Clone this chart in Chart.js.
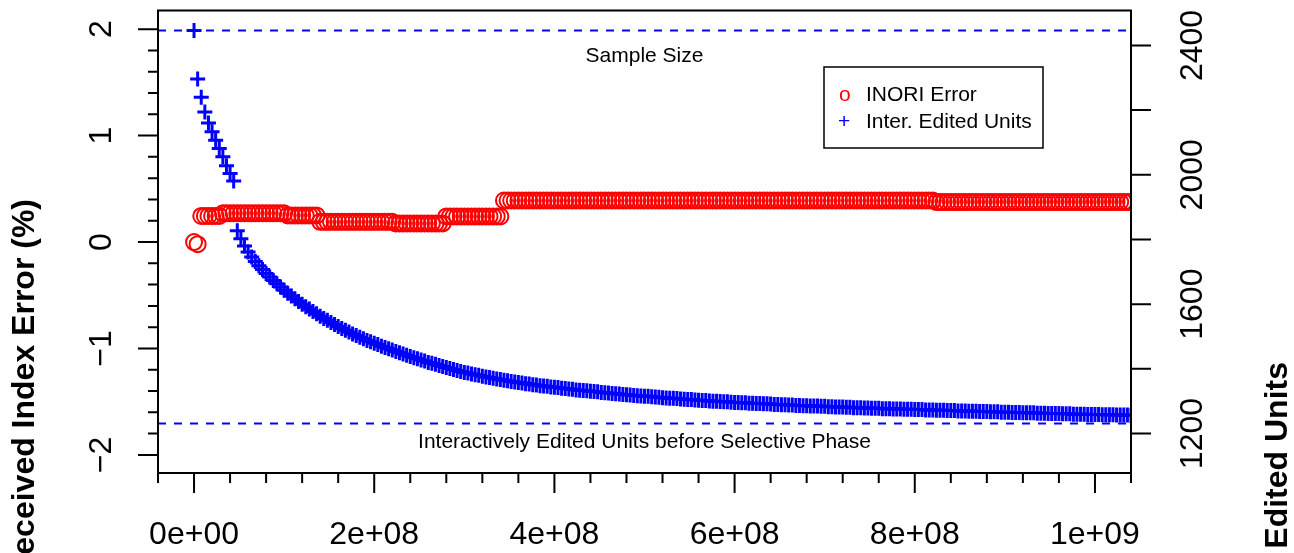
<!DOCTYPE html>
<html>
<head>
<meta charset="utf-8">
<script src="https://cdn.jsdelivr.net/npm/chart.js@4.4.0/dist/chart.umd.min.js"></script>
<style>
  html, body { margin: 0; padding: 0; background: #fff; }
  canvas { display: block; }
</style>
</head>
<body>
<canvas id="chart" width="1294" height="553"></canvas>
<script>
// x positions, in millions
const xMillions = [
  0,4,8,12,16,20,24,28,32,36,40,44,48,52,56,60,64,68,72,76,80,84,88,92,96,
  100,104,108,112,116,120,124,128,132,136,140,144,148,152,156,160,164,168,172,176,180,184,188,192,196,
  200,204,208,212,216,220,224,228,232,236,240,244,248,252,256,260,264,268,272,276,280,284,288,292,296,
  300,304,308,312,316,320,324,328,332,336,340,344,348,352,356,360,364,368,372,376,380,384,388,392,396,
  400,404,408,412,416,420,424,428,432,436,440,444,448,452,456,460,464,468,472,476,480,484,488,492,496,
  500,504,508,512,516,520,524,528,532,536,540,544,548,552,556,560,564,568,572,576,580,584,588,592,596,
  600,604,608,612,616,620,624,628,632,636,640,644,648,652,656,660,664,668,672,676,680,684,688,692,696,
  700,704,708,712,716,720,724,728,732,736,740,744,748,752,756,760,764,768,772,776,780,784,788,792,796,
  800,804,808,812,816,820,824,828,832,836,840,844,848,852,856,860,864,868,872,876,880,884,888,892,896,
  900,904,908,912,916,920,924,928,932,936,940,944,948,952,956,960,964,968,972,976,980,984,988,992,996,
  1000,1004,1008,1012,1016,1020,1024,1028,1032,1036,1040
];

// INORI error (%), left axis
const inoriError = [
  0.00,-0.02,0.245,0.245,0.245,0.245,0.245,0.245,0.27,0.27,0.27,0.27,0.27,0.27,0.27,0.27,0.27,0.27,0.27,0.27,0.27,0.27,0.27,0.27,0.27,
  0.27,0.25,0.25,0.25,0.25,0.25,0.25,0.25,0.25,0.25,0.19,0.19,0.19,0.19,0.19,0.19,0.19,0.19,0.19,0.19,0.19,0.19,0.19,0.19,0.19,
  0.19,0.19,0.19,0.19,0.19,0.19,0.175,0.175,0.175,0.175,0.175,0.175,0.175,0.175,0.175,0.175,0.175,0.175,0.175,0.175,0.24,0.24,0.24,0.24,0.24,
  0.24,0.24,0.24,0.24,0.24,0.24,0.24,0.24,0.24,0.24,0.24,0.39,0.39,0.39,0.39,0.39,0.39,0.39,0.39,0.39,0.39,0.39,0.39,0.39,0.39,
  0.39,0.39,0.39,0.39,0.39,0.39,0.39,0.39,0.39,0.39,0.39,0.39,0.39,0.39,0.39,0.39,0.39,0.39,0.39,0.39,0.39,0.39,0.39,0.39,0.39,
  0.39,0.39,0.39,0.39,0.39,0.39,0.39,0.39,0.39,0.39,0.39,0.39,0.39,0.39,0.39,0.39,0.39,0.39,0.39,0.39,0.39,0.39,0.39,0.39,0.39,
  0.39,0.39,0.39,0.39,0.39,0.39,0.39,0.39,0.39,0.39,0.39,0.39,0.39,0.39,0.39,0.39,0.39,0.39,0.39,0.39,0.39,0.39,0.39,0.39,0.39,
  0.39,0.39,0.39,0.39,0.39,0.39,0.39,0.39,0.39,0.39,0.39,0.39,0.39,0.39,0.39,0.39,0.39,0.39,0.39,0.39,0.39,0.39,0.39,0.39,0.39,
  0.39,0.39,0.39,0.39,0.39,0.39,0.375,0.375,0.375,0.375,0.375,0.375,0.375,0.375,0.375,0.375,0.375,0.375,0.375,0.375,0.375,0.375,0.375,0.375,0.375,
  0.375,0.375,0.375,0.375,0.375,0.375,0.375,0.375,0.375,0.375,0.375,0.375,0.375,0.375,0.375,0.375,0.375,0.375,0.375,0.375,0.375,0.375,0.375,0.375,0.375,
  0.375,0.375,0.375,0.375,0.375,0.375,0.375,0.375,0.375,0.375,0.375
];

// interactively edited units, right axis
const editedUnits = [
  2446,2296,2240,2194,2160,2133,2107,2081,2056,2028,2004,1981,1827,1802,1780,1761,1746,1732,1719,1707,1695,1684,1673,1663,1653,
  1643,1634,1625,1617,1608,1600,1592,1585,1577,1570,1563,1556,1550,1543,1537,1531,1525,1519,1514,1508,1503,1498,1493,1488,1484,
  1479,1475,1470,1466,1462,1458,1454,1450,1446,1442,1438,1434,1431,1427,1424,1420,1417,1414,1410,1407,1404,1401,1398,1395,1392,
  1389,1387,1384,1382,1380,1377,1375,1373,1371,1369,1367,1365,1363,1361,1359,1358,1356,1354,1353,1351,1350,1348,1347,1346,1344,
  1343,1342,1340,1339,1338,1337,1335,1334,1333,1332,1331,1330,1329,1327,1326,1325,1324,1323,1322,1321,1320,1319,1318,1317,1316,
  1315,1315,1314,1313,1312,1311,1310,1309,1309,1308,1307,1306,1305,1305,1304,1303,1302,1302,1301,1300,1300,1299,1298,1298,1297,
  1296,1296,1295,1295,1294,1294,1293,1293,1292,1292,1291,1290,1290,1289,1289,1288,1288,1287,1287,1286,1286,1285,1285,1285,1284,
  1284,1283,1283,1282,1282,1282,1281,1281,1280,1280,1280,1279,1279,1278,1278,1278,1277,1277,1277,1276,1276,1276,1275,1275,1275,
  1274,1274,1274,1273,1273,1273,1272,1272,1272,1271,1271,1271,1270,1270,1270,1269,1269,1269,1268,1268,1268,1267,1267,1267,1266,
  1266,1266,1265,1265,1265,1264,1264,1264,1264,1263,1263,1263,1262,1262,1262,1262,1261,1261,1261,1260,1260,1260,1260,1259,1259,
  1259,1259,1258,1258,1258,1258,1257,1257,1257,1257,1256
];

const sampleSize = 2446;
const unitsBeforeSelective = 1231;

const xTicks = [0, 2e8, 4e8, 6e8, 8e8, 1e9];
const xTickLabels = ['0e+00', '2e+08', '4e+08', '6e+08', '8e+08', '1e+09'];
const yTicks = [-2, -1, 0, 1, 2];
const yTickLabels = ['\u22122', '\u22121', '0', '1', '2'];
const y2Ticks = [1200, 1600, 2000, 2400];
const y2TickLabels = ['1200', '1600', '2000', '2400'];

const inoriPoints = xMillions.map((m, i) => ({ x: m * 1e6, y: inoriError[i] }));
const unitPoints = xMillions.map((m, i) => ({ x: m * 1e6, y: editedUnits[i] }));

const FONT = '"Liberation Sans", Arial, Helvetica, sans-serif';

function vText(ctx, txt, x, y, align) {
  ctx.save();
  ctx.translate(x, y);
  ctx.rotate(-Math.PI / 2);
  ctx.textAlign = align;
  ctx.textBaseline = 'middle';
  ctx.fillText(txt, 0, 0);
  ctx.restore();
}

const rAxes = {
  id: 'rAxes',
  afterDraw(chart) {
    const { ctx, chartArea: a, scales } = chart;
    const sx = scales.x, sy = scales.y, sy2 = scales.y2;
    ctx.save();
    ctx.strokeStyle = '#000';
    ctx.fillStyle = '#000';
    ctx.lineWidth = 2;
    ctx.strokeRect(a.left, a.top, a.right - a.left, a.bottom - a.top);

    ctx.beginPath();
    // bottom axis, minor ticks every 4e7
    for (let v = -4e7; v <= 1.0401e9; v += 4e7) {
      const px = sx.getPixelForValue(v);
      ctx.moveTo(px, a.bottom); ctx.lineTo(px, a.bottom + 10);
    }
    xTicks.forEach(v => {
      const px = sx.getPixelForValue(v);
      ctx.moveTo(px, a.bottom); ctx.lineTo(px, a.bottom + 20);
    });
    // left axis
    for (let k = -10; k <= 10; k++) {
      const py = sy.getPixelForValue(k / 5);
      ctx.moveTo(a.left, py); ctx.lineTo(a.left - 10, py);
    }
    yTicks.forEach(v => {
      const py = sy.getPixelForValue(v);
      ctx.moveTo(a.left, py); ctx.lineTo(a.left - 20, py);
    });
    // right axis
    for (let v = 1200; v <= 2400; v += 200) {
      const py = sy2.getPixelForValue(v);
      ctx.moveTo(a.right, py); ctx.lineTo(a.right + 20, py);
    }
    ctx.stroke();

    ctx.font = '32px ' + FONT;
    ctx.textAlign = 'center';
    ctx.textBaseline = 'middle';
    xTicks.forEach((v, i) => ctx.fillText(xTickLabels[i], sx.getPixelForValue(v), a.bottom + 62));
    yTicks.forEach((v, i) => vText(ctx, yTickLabels[i], a.left - 56, sy.getPixelForValue(v), 'center'));
    y2Ticks.forEach((v, i) => vText(ctx, y2TickLabels[i], a.right + 62, sy2.getPixelForValue(v), 'center'));

    ctx.font = 'bold 32px ' + FONT;
    vText(ctx, 'Received Index Error (%)', 25, 199, 'right');
    vText(ctx, 'Edited Units', 1278, 362, 'right');

    // annotations
    ctx.font = '21px ' + FONT;
    ctx.textAlign = 'center';
    const cx = (a.left + a.right) / 2;
    ctx.fillText('Sample Size', cx, sy2.getPixelForValue(sampleSize) + 26);
    ctx.fillText('Interactively Edited Units before Selective Phase', cx, sy2.getPixelForValue(unitsBeforeSelective) + 19);

    // legend
    ctx.lineWidth = 1.5;
    ctx.strokeRect(824, 67, 219, 81);
    ctx.textAlign = 'left';
    ctx.fillStyle = '#ff0000';
    ctx.fillText('o', 839, 95);
    ctx.fillStyle = '#0000ff';
    ctx.fillText('+', 838, 122);
    ctx.fillStyle = '#000';
    ctx.fillText('INORI Error', 866, 95);
    ctx.fillText('Inter. Edited Units', 866, 122);
    ctx.restore();
  }
};

new Chart(document.getElementById('chart'), {
  type: 'scatter',
  data: {
    datasets: [
      {
        type: 'line', data: [{ x: -4e7, y: sampleSize }, { x: 1.04e9, y: sampleSize }],
        yAxisID: 'y2', borderColor: '#0000ff', borderWidth: 2, borderDash: [8, 8],
        pointRadius: 0, order: 1
      },
      {
        type: 'line', data: [{ x: -4e7, y: unitsBeforeSelective }, { x: 1.04e9, y: unitsBeforeSelective }],
        yAxisID: 'y2', borderColor: '#0000ff', borderWidth: 2, borderDash: [8, 8],
        pointRadius: 0, order: 1
      },
      {
        label: 'Inter. Edited Units', data: unitPoints, yAxisID: 'y2',
        pointStyle: 'cross', pointRadius: 7.5, borderWidth: 3,
        borderColor: '#0000ff', backgroundColor: '#0000ff', clip: 0, order: 2
      },
      {
        label: 'INORI Error', data: inoriPoints, yAxisID: 'y',
        pointStyle: 'circle', pointRadius: 8, borderWidth: 2,
        borderColor: '#ff0000', backgroundColor: 'rgba(0,0,0,0)', clip: 0, order: 3
      }
    ]
  },
  options: {
    responsive: false,
    animation: false,
    events: [],
    layout: { padding: { left: 158, right: 163, top: 5, bottom: 80 } },
    plugins: { legend: { display: false }, tooltip: { enabled: false } },
    scales: {
      x: { type: 'linear', min: -4e7, max: 1.04e9, display: false },
      y: { type: 'linear', min: -2.17, max: 2.175, display: false },
      y2: { type: 'linear', min: 1078, max: 2508, display: false, position: 'right' }
    }
  },
  plugins: [rAxes]
});
</script>
</body>
</html>
